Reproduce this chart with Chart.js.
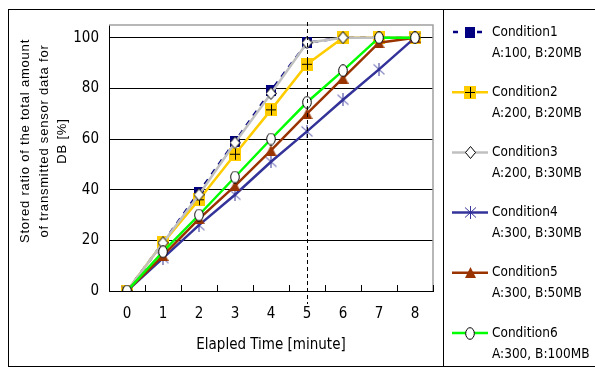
<!DOCTYPE html>
<html><head><meta charset="utf-8">
<script src="https://cdn.jsdelivr.net/npm/chart.js@4"></script>
<style>html,body{margin:0;padding:0;background:#fff;}#wrap{width:595px;height:369px;position:relative;}</style>
</head><body><div id="wrap"><canvas id="c" width="595" height="369"></canvas></div>
<script>
const categories = ['0','1','2','3','4','5','6','7','8'];
const yTickValues = [0, 20, 40, 60, 80, 100];
const cond1 = [0, 19, 39, 59, 79, 98, 100, 100, 100];
const cond2 = [0, 19, 36, 54, 71.5, 89.5, 100, 100, 100];
const cond3 = [0, 19, 38, 58.5, 78, 98, 100, 100, 100];
const cond4 = [0, 13, 26, 38, 51, 63, 75.5, 87.5, 100];
const cond5 = [0, 14, 28.5, 41.5, 55.5, 70, 84, 98, 100];
const cond6 = [0, 15.5, 30, 45, 60, 74.5, 87, 100, 100];
const seriesNames = ['Condition1','Condition2','Condition3','Condition4','Condition5','Condition6'];
const seriesSub = ['A:100, B:20MB','A:200, B:20MB','A:200, B:30MB','A:300, B:30MB','A:300, B:50MB','A:300, B:100MB'];
const yTitleLines = ['Stored ratio of the total amount','of transmitted sensor data for','DB [%]'];
const xTitle = 'Elapled Time [minute]';
const markedIndex = 5;

function mk(w,h,fn){const c=document.createElement('canvas');c.width=w;c.height=h;fn(c.getContext('2d'),w,h);return c;}
const pSquare = mk(10,11,(g,w,h)=>{g.fillStyle='#000080';g.fillRect(0,0,w,h);});
const pPlus = mk(12,13,(g,w,h)=>{g.fillStyle='#FFCC00';g.fillRect(0,0,w,h);g.strokeStyle='#000';g.lineWidth=1;g.beginPath();g.moveTo(6.5,1);g.lineTo(6.5,12);g.moveTo(1,6.5);g.lineTo(11,6.5);g.stroke();});
const pDiamond = mk(11,13,(g,w,h)=>{g.fillStyle='#fff';g.strokeStyle='#000';g.lineWidth=1;g.beginPath();g.moveTo(5.5,0.5);g.lineTo(10.5,6.5);g.lineTo(5.5,12.5);g.lineTo(0.5,6.5);g.closePath();g.fill();g.stroke();});
const pStar = mk(13,13,(g,w,h)=>{g.strokeStyle='#333399';g.lineWidth=1;g.beginPath();g.moveTo(6.5,0);g.lineTo(6.5,13);g.moveTo(1,1.5);g.lineTo(12,11.5);g.moveTo(12,1.5);g.lineTo(1,11.5);g.stroke();});
const pTri = mk(11,11,(g,w,h)=>{g.fillStyle='#993300';g.beginPath();g.moveTo(5.5,0);g.lineTo(11,11);g.lineTo(0,11);g.closePath();g.fill();});
const pCirc = mk(10,13,(g,w,h)=>{g.fillStyle='#fff';g.strokeStyle='#000';g.lineWidth=1;g.beginPath();g.ellipse(5,6.5,4.3,5.8,0,0,Math.PI*2);g.fill();g.stroke();});

const styles = [
  {color:'#000080', dash:[6,6], pt:pSquare},
  {color:'#FFCC00', dash:[], pt:pPlus},
  {color:'#C0C0C0', dash:[], pt:pDiamond},
  {color:'#333399', dash:[], pt:pStar},
  {color:'#993300', dash:[], pt:pTri},
  {color:'#00FF00', dash:[], pt:pCirc}
];
const allData = [cond1,cond2,cond3,cond4,cond5,cond6];
const datasets = allData.map((d,i)=>({
  label: seriesNames[i], data: d,
  borderColor: styles[i].color, backgroundColor: styles[i].color,
  borderWidth: 2.5, borderDash: styles[i].dash,
  pointStyle: styles[i].pt, pointRadius: 6, pointHoverRadius: 6,
  tension: 0, order: 6 - i
}));

const FONT_NARROW = '"Liberation Sans Narrow", "DejaVu Sans Condensed", "Liberation Sans", Arial, sans-serif';
const FONT_SANS = '"Liberation Sans", Arial, sans-serif';

const decor = {
  id:'decor',
  beforeDraw(chart){
    const g=chart.ctx;
    g.save();
    g.strokeStyle='#000'; g.lineWidth=1;
    g.strokeRect(8.5,9.5,620,357);
    g.beginPath(); g.moveTo(443.5,9.5); g.lineTo(443.5,366.5); g.stroke();
    g.restore();
  },
  afterDraw(chart){
    const g=chart.ctx, a=chart.chartArea, xs=chart.scales.x;
    g.save();
    g.strokeStyle='#A0A0A0'; g.lineWidth=1.5;
    g.beginPath(); g.moveTo(a.left,a.top); g.lineTo(a.right,a.top); g.lineTo(a.right,a.bottom); g.stroke();
    g.strokeStyle='#000'; g.lineWidth=1;
    const half=(xs.getPixelForValue(1)-xs.getPixelForValue(0))/2;
    g.beginPath();
    for(let i=0;i<categories.length;i++){const px=Math.round(xs.getPixelForValue(i)+half)+0.5;g.moveTo(px,a.bottom);g.lineTo(px,a.bottom-6);}
    g.stroke();
    const mx=Math.round(xs.getPixelForValue(markedIndex))+0.5;
    g.setLineDash([4,3]); g.beginPath(); g.moveTo(mx,a.top-3); g.lineTo(mx,a.bottom+13); g.stroke(); g.setLineDash([]);
    // y title
    g.fillStyle='#000'; g.font='13px '+FONT_SANS;
    g.letterSpacing='0.8px';
    g.textAlign='center'; g.textBaseline='middle';
    const xsPos=[25,44,62];
    yTitleLines.forEach((t,i)=>{g.save();g.translate(xsPos[i],141);g.rotate(-Math.PI/2);g.fillText(t,0,0);g.restore();});
    g.letterSpacing='0px';
    g.font='15px '+FONT_NARROW;
    g.fillText(xTitle,(a.left+a.right)/2,345);
    g.textAlign='left'; g.textBaseline='middle';
    for(let i=0;i<6;i++){
      const y=32+i*60.2, s=styles[i];
      g.strokeStyle=s.color; g.lineWidth=2.5;
      if(i===0){g.setLineDash([5,7]); g.lineDashOffset=-1;}
      g.beginPath(); g.moveTo(452,y); g.lineTo(488,y); g.stroke(); g.setLineDash([]);
      const im=s.pt; g.drawImage(im,Math.round(470-im.width/2),Math.round(y-im.height/2));
      g.fillStyle='#000'; g.font='13.5px '+FONT_NARROW;
      g.fillText(seriesNames[i],492,y);
      g.fillText(seriesSub[i],492,y+21);
    }
    g.restore();
  }
};

new Chart(document.getElementById('c'),{
  type:'line',
  data:{labels:categories, datasets},
  options:{
    responsive:false, animation:false, devicePixelRatio:1,
    layout:{padding:{left:10,right:162,top:25,bottom:0}},
    plugins:{legend:{display:false}, tooltip:{enabled:false}, title:{display:false}},
    scales:{
      x:{type:'category', offset:true,
        grid:{display:false, drawTicks:false},
        border:{display:true,color:'#000',width:1},
        ticks:{padding:14, color:'#000', font:{family:FONT_NARROW,size:15}, maxRotation:0},
        afterFit(s){s.height=78;}
      },
      y:{min:0,max:105,
        afterBuildTicks(s){s.ticks=yTickValues.map(v=>({value:v}));},
        ticks:{padding:10,color:'#000',font:{family:FONT_NARROW,size:15}},
        grid:{color:'#000',lineWidth:1,drawTicks:false},
        border:{display:true,color:'#000',width:1},
        afterFit(s){s.width=99;}
      }
    }
  },
  plugins:[decor]
});
</script></body></html>
